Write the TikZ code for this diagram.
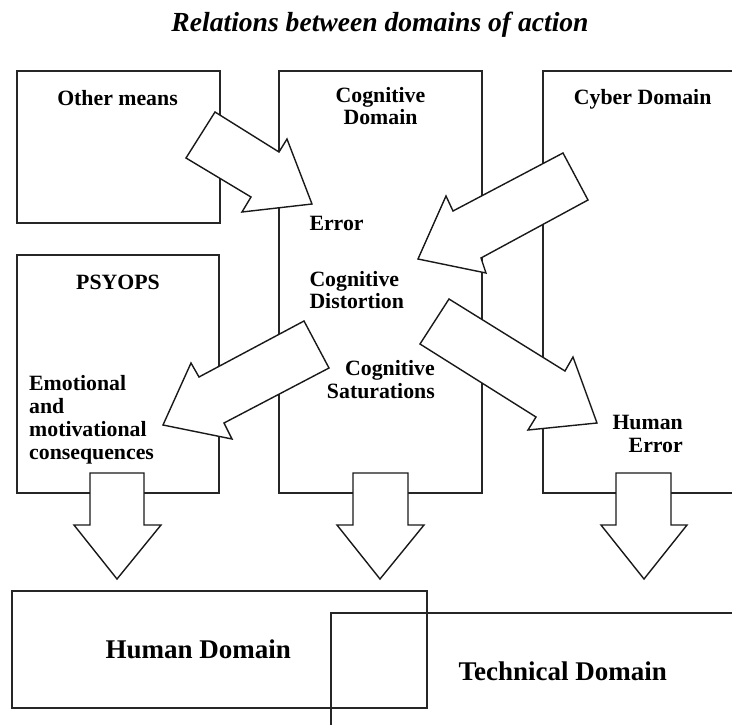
\documentclass[tikz,border=0pt]{standalone}
\usepackage{fontspec}
\setmainfont{Liberation Serif}
\begin{document}
\begin{tikzpicture}[x=1pt,y=-1pt,
  box/.style={draw=black!85,line width=1.2pt},
  blockarrow/.style={draw=black!90,fill=white,line width=1.4pt,line join=miter},
  lbl/.style={inner sep=0pt,font=\fontsize{21.8}{23.3}\selectfont\bfseries},
  big/.style={inner sep=0pt,font=\fontsize{27}{30}\selectfont\bfseries},
  ttl/.style={inner sep=0pt,font=\fontsize{27.6}{30}\selectfont\bfseries\itshape}]
\useasboundingbox (0,0) rectangle (732,724);
% title
\node[ttl,anchor=base] (title) at (380,31.5) {Relations between domains of action};
% boxes
\draw[box] (17,71) rectangle (220,223);
\draw[box] (279,71) rectangle (482,493);
\draw[box] (734,71) -- (543,71) -- (543,493) -- (734,493);
\draw[box] (17,255) rectangle (219,493);
\draw[box] (12,591) rectangle (427,708);
\draw[box] (734,613) -- (331,613) -- (331,726);
% slanted block arrows
\draw[blockarrow] (215,112) -- (279,152) -- (287,139) -- (312,204) -- (242,212) -- (251,197) -- (186,158) -- cycle;
\draw[blockarrow] (563,153) -- (453,211) -- (446,196) -- (418,259) -- (486,273) -- (481,258) -- (588,200) -- cycle;
\draw[blockarrow] (304,321) -- (199,377) -- (191,363) -- (163,425) -- (232,439) -- (224,423) -- (329,368) -- cycle;
\draw[blockarrow] (449,299) -- (565,371) -- (573,357) -- (597,423) -- (528,430) -- (536,417) -- (420,344) -- cycle;
% down block arrows
\draw[blockarrow] (90,473) -- (144,473) -- (144,525) -- (161,525) -- (117,579) -- (74,525) -- (90,525) -- cycle;
\draw[blockarrow] (353,473) -- (408,473) -- (408,525) -- (424,525) -- (380,579) -- (337,525) -- (353,525) -- cycle;
\draw[blockarrow] (616,473) -- (671,473) -- (671,525) -- (687,525) -- (644,579) -- (601,525) -- (616,525) -- cycle;
% labels
\node[lbl,anchor=base] (other) at (117.5,105) {Other means};
\node[lbl,anchor=base] (cog1) at (380.5,102) {Cognitive};
\node[lbl,anchor=base] (cog2) at (380.5,124) {Domain};
\node[lbl,anchor=base] (cyber) at (642.7,104) {Cyber Domain};
\node[lbl,anchor=base] (psyops) at (118,289) {PSYOPS};
\node[lbl,anchor=base west] (emo1) at (29,390) {Emotional};
\node[lbl,anchor=base west] (emo2) at (29,413.3) {and};
\node[lbl,anchor=base west] (emo3) at (29,436.6) {motivational};
\node[lbl,anchor=base west] (emo4) at (29,459.9) {consequences};
\node[lbl,anchor=base west] (err) at (309.3,230) {Error};
\node[lbl,anchor=base west] (dist1) at (309.3,286.5) {Cognitive};
\node[lbl,anchor=base west] (dist2) at (309.3,308) {Distortion};
\node[lbl,anchor=base east] (sat1) at (435,375) {Cognitive};
\node[lbl,anchor=base east] (sat2) at (435,398) {Saturations};
\node[lbl,anchor=base east] (he1) at (683,429) {Human};
\node[lbl,anchor=base east] (he2) at (683,452) {Error};
\node[big,anchor=base] (human) at (198.3,658) {Human Domain};
\node[big,anchor=base] (tech) at (562.7,680) {Technical Domain};
\end{tikzpicture}
\end{document}
